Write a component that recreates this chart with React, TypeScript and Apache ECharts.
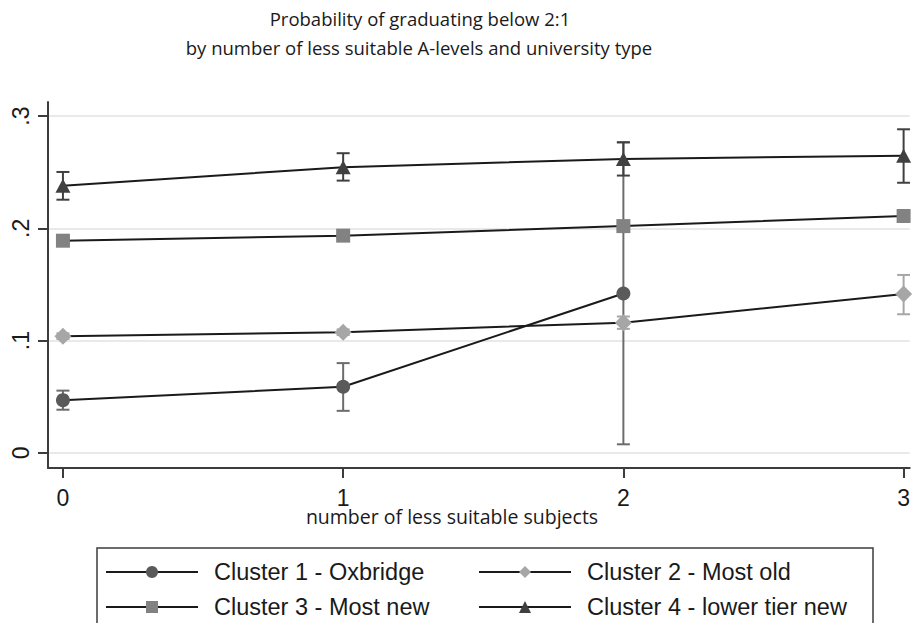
import React, { useEffect, useRef } from "react";
import * as echarts from "echarts";

const titleLines = [
  "Probability of graduating below 2:1",
  "by number of less suitable A-levels and university type",
];
const xTitle = "number of less suitable subjects";
const xTicks = [0, 1, 2, 3];
const yTicks = [0, 0.1, 0.2, 0.3];
const yTickLabels = ["0", ".1", ".2", ".3"];

const seriesNames = [
  "Cluster 1 - Oxbridge",
  "Cluster 2 - Most old",
  "Cluster 3 - Most new",
  "Cluster 4 - lower tier new",
];

// [x, estimate]
const c1Points = [[0, 0.047], [1, 0.059], [2, 0.142]];
const c2Points = [[0, 0.104], [1, 0.1075], [2, 0.116], [3, 0.1415]];
const c3Points = [[0, 0.189], [1, 0.1935], [2, 0.202], [3, 0.211]];
const c4Points = [[0, 0.238], [1, 0.2545], [2, 0.2618], [3, 0.2647]];

// [x, low, high]
const c1Errors = [[0, 0.0385, 0.0555], [1, 0.0375, 0.080], [2, 0.0077, 0.2766]];
const c2Errors = [[0, 0.1015, 0.1065], [1, 0.105, 0.11], [2, 0.1105, 0.1215], [3, 0.1235, 0.1585]];
const c3Errors = [[0, 0.1875, 0.1905], [1, 0.192, 0.195], [2, 0.1995, 0.2045], [3, 0.2075, 0.2145]];
const c4Errors = [[0, 0.2255, 0.2502], [1, 0.2425, 0.2669], [2, 0.247, 0.2766], [3, 0.2406, 0.2882]];

const markerColors = ["#5a5a5a", "#a6a6a6", "#828282", "#404040"];
const errorColors = ["#6c6c6c", "#a6a6a6", "#828282", "#404040"];
const symbols = ["circle", "diamond", "rect", "triangle"];
const symbolSizes: any[] = [14, [17, 17], 14, [15, 14]];

export default function App() {
  const ref = useRef<HTMLDivElement>(null);
  useEffect(() => {
    if (!ref.current) return;
    const chart = echarts.init(ref.current, null, { renderer: "svg" });
    const points = [c1Points, c2Points, c3Points, c4Points];
    const errors = [c1Errors, c2Errors, c3Errors, c4Errors];

    const errorSeries = errors.map((errs, i) => ({
      type: "custom",
      name: "err" + i,
      data: errs,
      encode: { x: 0, y: [1, 2] },
      z: 2,
      clip: true,
      renderItem: (params: any, api: any) => {
        const x = api.value(0);
        const lo = api.coord([x, api.value(1)]);
        const hi = api.coord([x, api.value(2)]);
        const w = 6.5;
        const style = { stroke: errorColors[i], lineWidth: 2 };
        return {
          type: "group",
          children: [
            { type: "line", shape: { x1: lo[0], y1: lo[1], x2: hi[0], y2: hi[1] }, style },
            { type: "line", shape: { x1: lo[0] - w, y1: lo[1], x2: lo[0] + w, y2: lo[1] }, style },
            { type: "line", shape: { x1: hi[0] - w, y1: hi[1], x2: hi[0] + w, y2: hi[1] }, style },
          ],
        };
      },
    }));

    const lineSeries = points.map((pts, i) => ({
      type: "line",
      name: seriesNames[i],
      data: pts,
      symbol: symbols[i],
      symbolSize: symbolSizes[i],
      showAllSymbol: true,
      z: 3,
      itemStyle: { color: markerColors[i], opacity: 1 },
      lineStyle: { color: "#1a1a1a", width: 2 },
    }));

    const axisColor = "#3c3c3c";
    const legendText = {
      fontFamily: "Liberation Sans, Arial, sans-serif",
      fontSize: 23.5,
      color: "#1a1a1a",
      lineHeight: 24,
      padding: [0, 0, 0, 11],
    };

    chart.setOption({
      animation: false,
      backgroundColor: "#ffffff",
      grid: { left: 48, right: 0, top: 102, bottom: 623 - 468, containLabel: false },
      xAxis: {
        type: "value",
        min: -0.0533,
        max: 3.0217,
        axisLine: { show: true, onZero: false, lineStyle: { color: axisColor, width: 2 } },
        axisTick: { show: true, customValues: xTicks, length: 10, lineStyle: { color: axisColor, width: 2 } },
        axisLabel: {
          show: true,
          customValues: xTicks,
          margin: 18,
          fontFamily: "Liberation Sans, Arial, sans-serif",
          fontSize: 23,
          color: "#1a1a1a",
          formatter: (v: number) => String(v),
        },
        splitLine: { show: false },
      },
      yAxis: {
        type: "value",
        min: -0.0134,
        max: 0.3125,
        axisLine: { show: true, onZero: false, lineStyle: { color: axisColor, width: 2 } },
        axisTick: { show: true, customValues: yTicks, length: 10, lineStyle: { color: axisColor, width: 2 } },
        axisLabel: {
          show: true,
          customValues: yTicks,
          rotate: 90,
          margin: 16,
          fontFamily: "Liberation Sans, Arial, sans-serif",
          fontSize: 23,
          color: "#1a1a1a",
          formatter: (v: number) => {
            const idx = yTicks.findIndex((t) => Math.abs(t - v) < 1e-6);
            return idx >= 0 ? yTickLabels[idx] : "";
          },
        },
        splitLine: { show: true, lineStyle: { color: "#e9e9e9", width: 2 } },
      },
      legend: [
        {
          data: [seriesNames[0], seriesNames[2]],
          orient: "vertical",
          left: 105,
          top: 560,
          padding: 0,
          itemGap: 11,
          itemWidth: 92,
          itemHeight: 15,
          selectedMode: false,
          textStyle: legendText,
        },
        {
          data: [seriesNames[1], seriesNames[3]],
          orient: "vertical",
          left: 478,
          top: 560,
          padding: 0,
          itemGap: 11,
          itemWidth: 92,
          itemHeight: 15,
          selectedMode: false,
          textStyle: legendText,
        },
      ],
      graphic: [
        {
          type: "text",
          x: 420,
          y: 18,
          style: {
            text: titleLines[0],
            textAlign: "center",
            textVerticalAlign: "middle",
            font: '18.5px "Open Sans", sans-serif',
            fill: "#1a1a1a",
          },
        },
        {
          type: "text",
          x: 419,
          y: 47,
          style: {
            text: titleLines[1],
            textAlign: "center",
            textVerticalAlign: "middle",
            font: '18.5px "Open Sans", sans-serif',
            fill: "#1a1a1a",
          },
        },
        {
          type: "text",
          x: 452,
          y: 516,
          style: {
            text: xTitle,
            textAlign: "center",
            textVerticalAlign: "middle",
            font: '19.5px "Open Sans", sans-serif',
            fill: "#1a1a1a",
          },
        },
        {
          type: "rect",
          shape: { x: 97, y: 548, width: 776, height: 120 },
          style: { fill: "none", stroke: "#3c3c3c", lineWidth: 1.5 },
          z: 0,
        },
      ],
      series: [...errorSeries, ...lineSeries],
    });
    return () => chart.dispose();
  }, []);
  return (
    <div
      ref={ref}
      style={{ position: "fixed", left: 0, top: 0, width: 913, height: 623, background: "#fff" }}
    />
  );
}
